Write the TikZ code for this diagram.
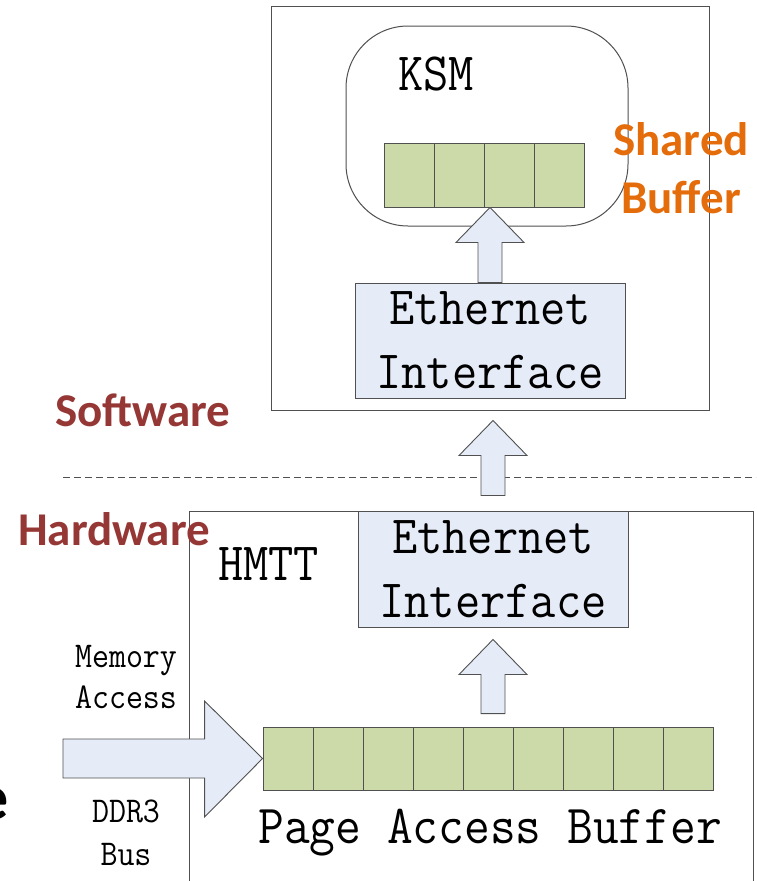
\documentclass[tikz,border=0pt]{standalone}
\usepackage{fontspec}
\usepackage{graphicx}
\newfontfamily\calibri{Carlito}
\usetikzlibrary{calc}
\definecolor{cellgreen}{RGB}{204,218,169}
\definecolor{paleblue}{RGB}{230,236,247}
\definecolor{swred}{RGB}{149,55,53}
\definecolor{sborange}{RGB}{228,108,10}
\definecolor{edge}{RGB}{80,80,80}
\newcommand\fsz[1]{\fontsize{#1}{#1}\selectfont}
% slightly taller typewriter glyphs
\newcommand\tall[1]{\scalebox{1}[1.1]{#1}}
% upright block arrow: #1 = foot point, #2 = tip point
\newcommand\fatup[2]{%
  \draw[blockarrow] let \p1=#1, \p2=#2 in
    (\x1-12pt,\y1) -- (\x1-12pt,\y2-35pt) -- (\x1-34pt,\y2-35pt) -- (\x1,\y2)
    -- (\x1+34pt,\y2-35pt) -- (\x1+12pt,\y2-35pt) -- (\x1+12pt,\y1) -- cycle;}
\tikzset{
  frame/.style={draw=edge, line width=1pt, inner sep=0pt},
  ethbox/.style={draw=edge, fill=paleblue, line width=1pt, align=center,
    font=\ttfamily\fontsize{49}{64}\selectfont, inner sep=0pt},
  cell/.style={draw=edge, fill=cellgreen, line width=0.9pt, inner sep=0pt},
  blockarrow/.style={draw=edge, fill=paleblue, line width=0.9pt, line join=miter},
  monolabel/.style={font=\ttfamily\fsz{33}, inner sep=0pt, anchor=base},
  bigmono/.style={font=\ttfamily\fsz{49}, inner sep=0pt},
  layer/.style={font=\calibri\bfseries\fsz{47}, inner sep=0pt, text=swred},
}
\begin{document}
\begin{tikzpicture}[x=1pt,y=-1pt]
\clip (0,0) rectangle (756,881);
\fill[white] (0,0) rectangle (756,881);

% software side
\node[frame, minimum width=438pt, minimum height=404pt] (sw) at (490,208) {};
\node[frame, rounded corners=62pt, minimum width=282pt, minimum height=200pt] (ksm) at (487,126) {};
\node[bigmono, anchor=base west] (ksmtext) at (398,90) {\tall{KSM}};
\foreach \i in {0,...,3}
  \node[cell, minimum width=50pt, minimum height=64pt] (sb\i) at (409+50*\i,175) {};
\node[ethbox, minimum width=270pt, minimum height=115pt] (eth1) at (490,340.5) {\tall{Ethernet}\\\tall{Interface}};
\fatup{(eth1.north)}{(eth1.north |- sb0.south)}

% hardware side
\node[frame, minimum width=564pt, minimum height=420pt] (hmtt) at (471,721) {};
\coordinate (divL) at (63,477);
\coordinate (divR) at (756,477);
\draw[edge, line width=1pt, dash pattern=on 7pt off 4pt] (divL) -- (divR);
\node[ethbox, minimum width=270pt, minimum height=116pt] (eth2) at (493,569) {\tall{Ethernet}\\\tall{Interface}};
\node[bigmono, anchor=base west] (hmtttext) at (218,580) {\tall{HMTT}};
\foreach \i in {0,...,8}
  \node[cell, minimum width=50.1pt, minimum height=63pt] (pb\i) at (288.05+50.1*\i,758.5) {};
\node[bigmono, anchor=base, font=\ttfamily\fsz{50}] (pabtext) at (490,843) {\tall{Page Access Buffer}};

% data path arrows
\fatup{($(eth2.north)+(0,-15)$)}{($(eth2.north |- sw.south)+(0,10)$)}
\fatup{($(eth2.south |- pb4.north)+(0,-13)$)}{($(eth2.south)+(0,12)$)}
\draw[blockarrow] let \p1=(pb0.west) in
  (63,739) -- (\x1-58pt,739) -- (\x1-58pt,701) -- (\p1)
  -- (\x1-58pt,817) -- (\x1-58pt,778) -- (63,778) -- cycle;

% side labels
\node[monolabel] (mem1) at (126,667) {\tall{Memory}};
\node[monolabel] (mem2) at (126,708) {\tall{Access}};
\node[monolabel] (ddr1) at (126,822) {\tall{DDR3}};
\node[monolabel] (ddr2) at (126,865) {\tall{Bus}};

\node[layer, anchor=base west] (swlabel) at (55,426) {Software};
\node[layer, anchor=base west] (hwlabel) at (18,545) {Hardware};
\node[layer, text=sborange, anchor=base] (sblabel1) at (681,155) {Shared};
\node[layer, text=sborange, anchor=base] (sblabel2) at (681,213) {Buffer};
\node[font=\calibri\bfseries\fsz{64}, inner sep=0pt, anchor=base east] (edgeglyph) at (9,819) {e};
\end{tikzpicture}
\end{document}
